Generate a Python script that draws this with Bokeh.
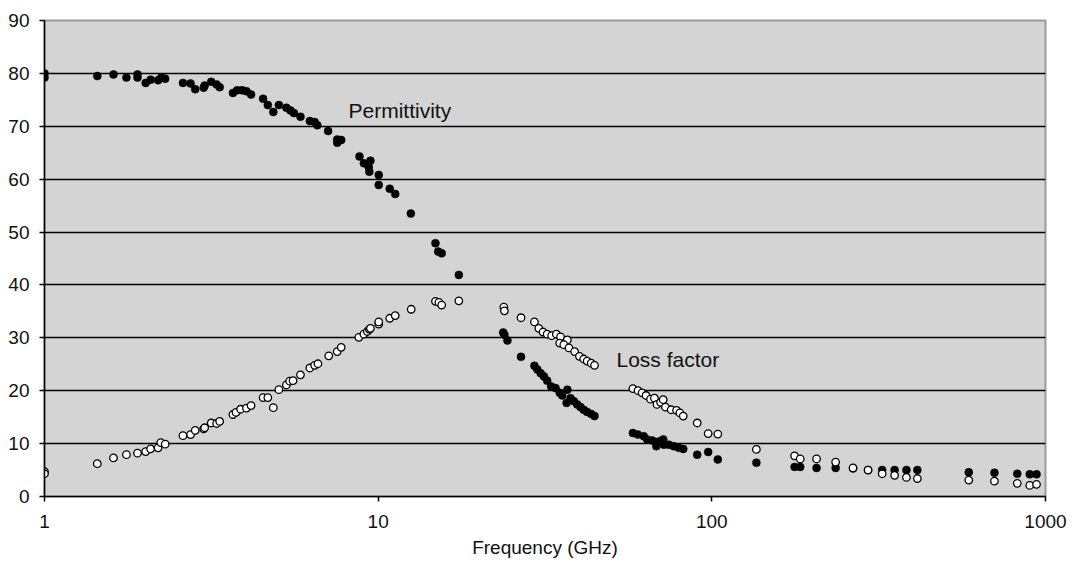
from bokeh.plotting import figure
from bokeh.models import FixedTicker, NumeralTickFormatter, Label, Range1d
from bokeh.embed import file_html
from bokeh.resources import INLINE

# ---- data ----
perm_freq = [1.0, 1.0, 1.44, 1.61, 1.76, 1.90, 1.90, 2.01, 2.08, 2.19, 2.24, 2.30, 2.60, 2.74,
             2.83, 3.00, 3.02, 3.16, 3.28, 3.35, 3.67, 3.78, 3.91, 4.03, 4.16, 4.52, 4.67, 4.85,
             5.04, 5.31, 5.46, 5.59, 5.85, 6.24, 6.45, 6.57, 7.08, 7.54, 7.75, 7.54, 8.79, 9.06,
             9.48, 9.37, 9.41, 10.04, 10.04, 10.83, 11.25, 12.53, 14.85, 15.13, 15.5, 17.45,
             23.7, 23.9, 24.4, 26.8, 29.4, 30.0, 30.7, 31.4, 32.1, 33.0, 34.0, 35.0, 35.6, 36.9,
             36.7, 37.7, 38.6, 39.5, 40.4, 41.3, 42.3, 43.5, 44.5,
             58.0, 60.0, 62.5, 64.0, 66.3, 68.2, 69.4, 71.5, 71.8, 74.3, 76.9, 79.6, 82.1,
             90.4, 97.5, 104.2, 136, 177, 184, 206, 235, 265, 294, 324, 353, 383, 413,
             589, 703, 823, 897, 940]
perm_val = [80.0, 79.2, 79.5, 79.8, 79.2, 79.8, 79.2, 78.2, 78.8, 78.7, 79.2, 79.0, 78.2, 78.1,
            77.0, 77.3, 77.7, 78.4, 77.9, 77.4, 76.3, 76.8, 76.8, 76.6, 76.0, 75.2, 74.0, 72.7,
            74.0, 73.5, 73.0, 72.5, 71.8, 71.0, 70.8, 70.2, 69.1, 67.5, 67.4, 66.9, 64.3, 63.0,
            63.5, 62.3, 61.4, 60.8, 58.9, 58.2, 57.2, 53.5, 47.9, 46.3, 46.0, 41.9,
            31.0, 30.6, 29.5, 26.4, 24.7, 24.0, 23.3, 22.7, 21.9, 20.8, 20.5, 19.6, 19.1, 20.2,
            17.7, 18.6, 18.0, 17.4, 16.9, 16.4, 16.0, 15.6, 15.2,
            12.0, 11.7, 11.4, 10.8, 10.6, 9.5, 10.4, 10.8, 9.8, 9.8, 9.5, 9.2, 9.0,
            7.9, 8.4, 7.0, 6.4, 5.6, 5.6, 5.4, 5.4, 5.3, 5.0, 5.0, 5.0, 5.0, 5.0,
            4.6, 4.5, 4.3, 4.2, 4.2]

loss_freq = [1.0, 1.0, 1.44, 1.61, 1.76, 1.90, 2.01, 2.08, 2.19, 2.23, 2.30, 2.60, 2.74, 2.83,
             3.00, 3.02, 3.16, 3.28, 3.35, 3.67, 3.75, 3.87, 4.03, 4.16, 4.52, 4.67, 4.85,
             5.04, 5.31, 5.43, 5.56, 5.85, 6.24, 6.45, 6.6, 7.11, 7.54, 7.75, 8.75, 9.06, 9.28,
             9.41, 9.48, 10.04, 10.04, 10.83, 11.25, 12.56, 14.85, 15.2, 15.5, 17.45,
             23.8, 23.9, 26.8, 29.4, 30.3, 31.2, 32.1, 33.1, 34.2, 35.2, 36.9, 35.0, 36.0, 37.3,
             38.8, 40.1, 41.3, 42.3, 43.5, 44.5,
             58.0, 60.1, 61.8, 63.5, 65.5, 67.3, 68.5, 70.2, 71.5, 72.6, 75.5, 78.4, 80.2, 82.1,
             90.4, 97.5, 104.2, 136, 177, 184, 206, 235, 265, 294, 324, 353, 383, 413,
             589, 703, 823, 897, 940]
loss_val = [4.7, 4.3, 6.2, 7.3, 7.9, 8.2, 8.5, 9.0, 9.2, 10.2, 9.9, 11.5, 11.7, 12.5,
            12.8, 13.0, 13.9, 13.8, 14.2, 15.5, 15.9, 16.5, 16.7, 17.2, 18.7, 18.7, 16.8,
            20.2, 21.1, 21.8, 21.9, 23.0, 24.3, 24.8, 25.1, 26.6, 27.4, 28.2, 30.1, 30.7, 31.2,
            31.6, 31.8, 32.6, 33.0, 33.7, 34.2, 35.4, 36.9, 36.7, 36.2, 37.0,
            35.8, 35.1, 33.8, 33.0, 31.8, 31.1, 30.7, 30.4, 30.7, 30.2, 29.6, 29.0, 28.7, 28.1,
            27.4, 26.5, 26.0, 25.6, 25.2, 24.8,
            20.4, 20.0, 19.6, 19.1, 18.4, 18.6, 17.4, 17.8, 18.3, 16.9, 16.4, 16.3, 15.8, 15.2,
            13.9, 11.9, 11.8, 8.9, 7.7, 7.1, 7.1, 6.5, 5.4, 5.0, 4.3, 4.0, 3.6, 3.4,
            3.1, 2.9, 2.5, 2.1, 2.3]

x_ticks = [1, 10, 100, 1000]
y_ticks = [0, 10, 20, 30, 40, 50, 60, 70, 80, 90]
grid_lines = [10, 20, 30, 40, 50, 60, 70, 80]
x_title = "Frequency (GHz)"
series_labels = ["Permittivity", "Loss factor"]

FONT = "Liberation Sans"

p = figure(width=1068, height=560, x_axis_type="log",
           x_range=Range1d(1, 1000), y_range=Range1d(0, 90),
           output_backend="svg", toolbar_location=None,
           min_border_left=44, min_border_right=23, min_border_top=20, min_border_bottom=60)

p.background_fill_color = "#d4d4d4"
p.border_fill_color = "white"
p.outline_line_color = "#9a9a9a"
p.outline_line_width = 2

p.xgrid.visible = False
p.ygrid.ticker = FixedTicker(ticks=grid_lines)
p.ygrid.grid_line_color = "black"
p.ygrid.grid_line_width = 1.3

p.xaxis.ticker = FixedTicker(ticks=x_ticks)
p.xaxis.formatter = NumeralTickFormatter(format="0")
p.yaxis.ticker = FixedTicker(ticks=y_ticks)

for ax in (p.xaxis[0], p.yaxis[0]):
    ax.axis_line_color = "black"
    ax.axis_line_width = 1.5
    ax.major_tick_line_color = "black"
    ax.major_tick_line_width = 1.5
    ax.major_tick_out = 5
    ax.major_tick_in = 0
    ax.minor_tick_line_color = None
    ax.major_label_text_font = FONT
    ax.major_label_text_font_size = "19px"
    ax.major_label_text_color = "#111111"

p.xaxis.major_label_standoff = 13
p.yaxis.major_label_standoff = 10
p.xaxis.axis_label = x_title
p.xaxis.axis_label_text_font = FONT
p.xaxis.axis_label_text_font_size = "19px"
p.xaxis.axis_label_text_font_style = "normal"
p.xaxis.axis_label_text_color = "#111111"
p.xaxis.axis_label_standoff = 6

p.scatter(perm_freq, perm_val, size=8, fill_color="black", line_color="black", line_width=0.5)
p.scatter(loss_freq, loss_val, size=7.5, fill_color="white", line_color="black", line_width=1.3)

p.add_layout(Label(x=8.15, y=73.0, text=series_labels[0], text_font=FONT,
                   text_font_size="21px", text_baseline="middle", text_align="left",
                   text_color="#111111"))
p.add_layout(Label(x=51.8, y=25.85, text=series_labels[1], text_font=FONT,
                   text_font_size="21px", text_baseline="middle", text_align="left",
                   text_color="#111111"))

open("out.html", "w").write(file_html(p, INLINE))
